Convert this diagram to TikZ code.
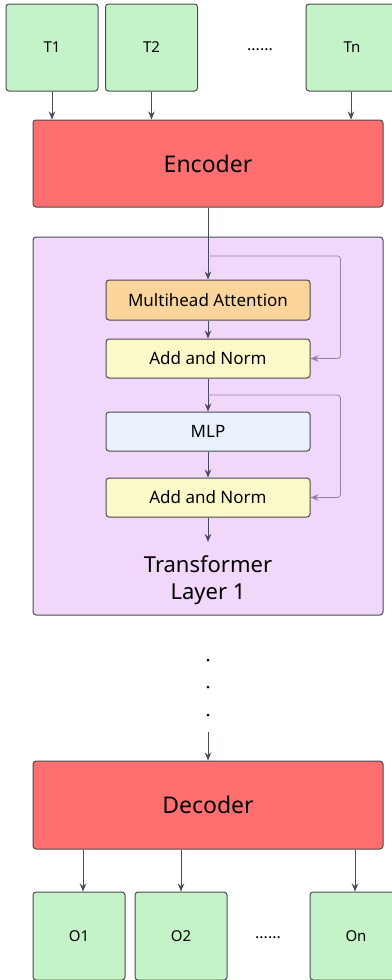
\documentclass[tikz,border=0pt]{standalone}
\usepackage{fontspec}
\setsansfont{Noto Sans}
\usetikzlibrary{arrows.meta}
\definecolor{tokgreen}{HTML}{C4F3C8}
\definecolor{codered}{HTML}{FF6F6F}
\definecolor{layerpurple}{HTML}{F1D8FB}
\definecolor{attnorange}{HTML}{FCD59C}
\definecolor{normyellow}{HTML}{FBF9CA}
\definecolor{mlpblue}{HTML}{E9F2FC}
\definecolor{boxline}{HTML}{4B4B4F}
\definecolor{arrline}{HTML}{474C5A}
\definecolor{skipline}{HTML}{9484A4}
\begin{document}
\begin{tikzpicture}[x=1pt,y=-1pt,font=\sffamily,
    box/.style={draw=boxline,line width=1pt,rounded corners=3pt,inner sep=0pt},
    tok/.style={box,fill=tokgreen,minimum width=92pt,minimum height=87pt,font=\sffamily\fontsize{15}{18}\selectfont},
    codec/.style={box,fill=codered,minimum width=350pt,minimum height=87pt,font=\sffamily\fontsize{23}{27}\selectfont},
    sub/.style={box,minimum width=204pt,minimum height=39pt,font=\sffamily\fontsize{17}{20}\selectfont},
    arr/.style={draw=arrline,line width=0.8pt,-{Stealth[length=8pt,width=6.5pt]}},
    skip/.style={draw=skipline,line width=0.8pt,rounded corners=3pt,-{Stealth[length=8pt,width=6.5pt]}}]
    \useasboundingbox (0,0) rectangle (391,980);
    % inputs
    \node[tok] (t1) at (52,47.5) {T1};
    \node[tok] (t2) at (151.5,47.5) {T2};
    \node[tok] (tn) at (352,47.5) {Tn};
    \node[font=\sffamily\fontsize{16}{18}\selectfont] (tdots) at (260,50) {......};
    \node[codec] (enc) at (208,163.5) {Encoder};
    \draw[arr] (t1) -- (t1 |- enc.north);
    \draw[arr] (t2) -- (t2 |- enc.north);
    \draw[arr] ([xshift=-1pt]tn.south) -- ([xshift=-1pt]tn.south |- enc.north);
    % transformer layer
    \node[box,fill=layerpurple,minimum width=350pt,minimum height=378pt] (layer) at (208,426) {};
    \node[sub,fill=attnorange,minimum height=40pt] (mha) at (208,300) {Multihead Attention};
    \node[sub,fill=normyellow] (an1) at (208,358.5) {Add and Norm};
    \node[sub,fill=mlpblue] (mlp) at (208,431.5) {MLP};
    \node[sub,fill=normyellow] (an2) at (208,497.5) {Add and Norm};
    \node[align=center,font=\sffamily\fontsize{22}{27}\selectfont] (lname) at (208,580) {Transformer\\Layer 1};
    \coordinate (br1) at (208,256);
    \coordinate (br2) at (208,395);
    \coordinate (lout) at (208,542);
    \draw[arr] (enc.south) -- (mha.north);
    \draw[arr] (mha) -- (an1);
    \draw[arr] (an1) -- (mlp);
    \draw[arr] (mlp) -- (an2);
    \draw[arr] (an2) -- (lout);
    \draw[skip] (br1) -| ([xshift=30pt]an1.east) -- (an1.east);
    \draw[skip] (br2) -| ([xshift=30pt]an2.east) -- (an2.east);
    % more layers
    \foreach \y in {660,687,715}
        \fill (208,\y) circle (1.5pt);
    \coordinate (din) at (208,732);
    \node[codec,minimum height=88pt] (dec) at (208,805) {Decoder};
    \draw[arr] (din) -- (dec.north);
    % outputs
    \node[tok,minimum height=88pt] (o1) at (79,936) {O1};
    \node[tok,minimum height=88pt] (o2) at (181,936) {O2};
    \node[tok,minimum height=88pt] (on) at (356,936) {On};
    \node[font=\sffamily\fontsize{16}{18}\selectfont] (odots) at (268,938) {......};
    \draw[arr] ([xshift=4pt]o1.north |- dec.south) -- ([xshift=4pt]o1.north);
    \draw[arr] (o2.north |- dec.south) -- (o2.north);
    \draw[arr] ([xshift=-1pt]on.north |- dec.south) -- ([xshift=-1pt]on.north);
\end{tikzpicture}
\end{document}
